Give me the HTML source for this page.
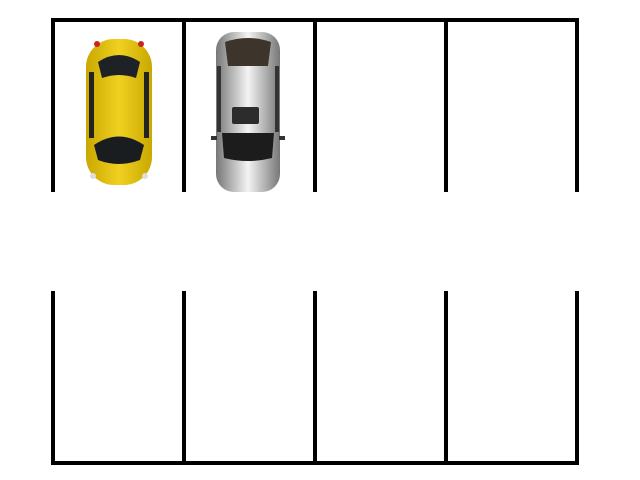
<!DOCTYPE html>
<html><head><meta charset="utf-8"><style>html,body{margin:0;padding:0;background:#fff;width:640px;height:480px;overflow:hidden}</style></head>
<body>
<svg width="640" height="480" viewBox="0 0 640 480">
<defs>
<linearGradient id="yel" x1="0" x2="1"><stop offset="0" stop-color="#c9a800"/><stop offset="0.5" stop-color="#f0d020"/><stop offset="1" stop-color="#c9a800"/></linearGradient>
<linearGradient id="sil" x1="0" x2="1"><stop offset="0" stop-color="#777"/><stop offset="0.5" stop-color="#f4f4f4"/><stop offset="1" stop-color="#777"/></linearGradient>
</defs>
<g stroke="#000" stroke-width="4" fill="none">
<line x1="51" y1="20" x2="579" y2="20"/>
<line x1="53" y1="18" x2="53" y2="192"/>
<line x1="184" y1="18" x2="184" y2="192"/>
<line x1="315" y1="18" x2="315" y2="192"/>
<line x1="446" y1="18" x2="446" y2="192"/>
<line x1="577" y1="18" x2="577" y2="192"/>
<line x1="51" y1="463" x2="579" y2="463"/>
<line x1="53" y1="291" x2="53" y2="465"/>
<line x1="184" y1="291" x2="184" y2="465"/>
<line x1="315" y1="291" x2="315" y2="465"/>
<line x1="446" y1="291" x2="446" y2="465"/>
<line x1="577" y1="291" x2="577" y2="465"/>
</g>
<g>
<rect x="86" y="39" width="66" height="146" rx="28" fill="url(#yel)"/>
<path d="M98 62 Q119 48 140 62 L136 78 Q119 72 102 78 Z" fill="#1e2226"/>
<path d="M94 145 Q119 128 144 145 L140 160 Q119 168 98 160 Z" fill="#1a1d20"/>
<rect x="89" y="72" width="5" height="66" fill="#222"/>
<rect x="144" y="72" width="5" height="66" fill="#222"/>
<circle cx="97" cy="44" r="3" fill="#c22"/><circle cx="141" cy="44" r="3" fill="#c22"/>
<circle cx="93" cy="176" r="3" fill="#ddd"/><circle cx="145" cy="176" r="3" fill="#ddd"/>
</g>
<g>
<rect x="216" y="32" width="64" height="160" rx="18" fill="url(#sil)"/>
<path d="M225 42 Q248 34 271 42 L268 66 L228 66 Z" fill="#3d352c"/>
<rect x="232" y="107" width="27" height="17" rx="2" fill="#2c2c2c"/>
<path d="M222 133 L274 133 L272 158 Q248 164 224 158 Z" fill="#1c1c1c"/>
<rect x="211" y="136" width="6" height="4" fill="#333"/><rect x="279" y="136" width="6" height="4" fill="#333"/>
<rect x="217" y="66" width="4" height="66" fill="#333"/><rect x="275" y="66" width="4" height="66" fill="#333"/>
</g>
</svg>
</body></html>
